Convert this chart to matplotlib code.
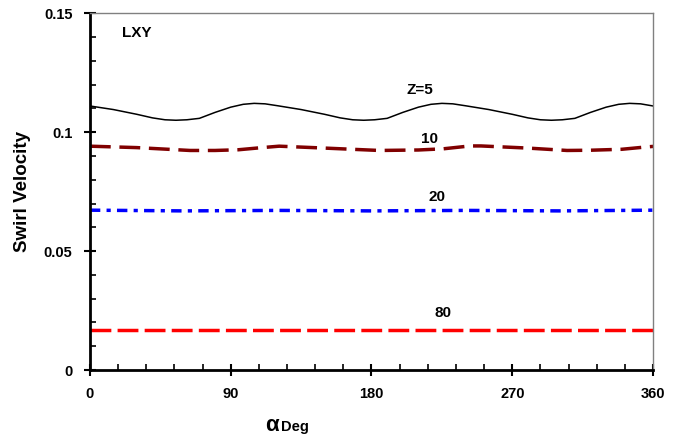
import matplotlib
matplotlib.use("Agg")
import matplotlib.pyplot as plt
from matplotlib.ticker import MultipleLocator

plt.rcParams['font.family'] = ['Liberation Sans', 'DejaVu Sans']

# swirl velocity vs circumferential angle
alpha = [0, 15, 30, 40, 48, 55, 62, 70, 80, 90, 98, 105, 112, 120, 135, 150, 160, 168, 175,
         182, 190, 200, 210, 218, 225, 232, 240, 255, 270, 280, 288, 295, 302, 310, 320,
         330, 338, 345, 352, 360]
z5 = [0.1110, 0.1095, 0.1075, 0.1060, 0.1052, 0.1050, 0.1052, 0.1058, 0.1083, 0.1105,
      0.1117, 0.1121, 0.1119, 0.1111, 0.1095, 0.1075, 0.1060, 0.1052, 0.1050, 0.1052,
      0.1058, 0.1083, 0.1105, 0.1117, 0.1121, 0.1119, 0.1111, 0.1095, 0.1075, 0.1060,
      0.1052, 0.1050, 0.1052, 0.1058, 0.1083, 0.1105, 0.1117, 0.1121, 0.1119, 0.1110]

alpha10 = [0, 30, 64, 80, 95, 110, 121, 150, 185, 210, 226, 243, 250, 280, 305, 320, 340, 356, 360]
z10 = [0.0941, 0.0935, 0.0923, 0.0923, 0.0926, 0.0935, 0.0941, 0.0933, 0.0923, 0.0925, 0.0930,
       0.0942, 0.0942, 0.0933, 0.0923, 0.0924, 0.0928, 0.0938, 0.0940]

alpha20 = [0, 60, 120, 180, 240, 300, 360]
z20 = [0.0672, 0.0669, 0.0671, 0.0669, 0.0671, 0.0669, 0.0672]

alpha80 = [0, 90, 180, 270, 360]
z80 = [0.0168, 0.0168, 0.0168, 0.0168, 0.0168]

fig = plt.figure(figsize=(6.81, 4.4), dpi=100)
ax = fig.add_axes([0.132, 0.159, 0.827, 0.811])

ax.plot(alpha, z5, color='black', lw=1.1)
ax.plot(alpha10, z10, color='#800000', lw=2.5, dashes=(6, 2.5))
ax.plot(alpha20, z20, color='#0000ff', lw=2.5, dashes=(3, 1.8, 1.2, 1.8))
ax.plot(alpha80, z80, color='#ff0000', lw=2.5, dashes=(6, 1.8))

lab = dict(fontsize=11, fontweight='bold', ha='center', va='center')
ax.text(211, 0.1177, 'Z=5', **lab)
ax.text(217, 0.0970, '10', **lab)
ax.text(222, 0.0727, '20', **lab)
ax.text(226, 0.0239, '80', **lab)
ax.text(30, 0.1416, 'LXY', **lab)

ax.set_xlim(0, 360)
ax.set_ylim(0, 0.15)
ax.xaxis.set_minor_locator(MultipleLocator(18))
ax.yaxis.set_minor_locator(MultipleLocator(0.01))
ax.set_xticks([0, 90, 180, 270, 360])
ax.set_xticklabels(['0', '90', '180', '270', '360'])
ax.set_yticks([0, 0.05, 0.1, 0.15])
ax.set_yticklabels(['0', '0.05', '0.1', '0.15'])

ax.tick_params(which='major', direction='inout', length=9, width=1.5, labelsize=10.5, pad=8)
ax.tick_params(which='minor', direction='in', length=4, width=1.2)
ax.tick_params(top=False, right=False, which='both')
for lbl in ax.get_xticklabels() + ax.get_yticklabels():
    lbl.set_fontweight('bold')

for s in ['left', 'bottom']:
    ax.spines[s].set_linewidth(2)
    ax.spines[s].set_color('black')
for s in ['top', 'right']:
    ax.spines[s].set_linewidth(1)
    ax.spines[s].set_color('#808080')

ax.set_ylabel('Swirl Velocity', fontsize=13.5, fontweight='bold', labelpad=9)
fig.text(0.399, 0.02, '\u03b1', fontsize=16, fontweight='bold', ha='center', va='baseline')
fig.text(0.413, 0.02, 'Deg', fontsize=10.5, fontweight='bold', ha='left', va='baseline')

fig.savefig('out.png', dpi=100)
